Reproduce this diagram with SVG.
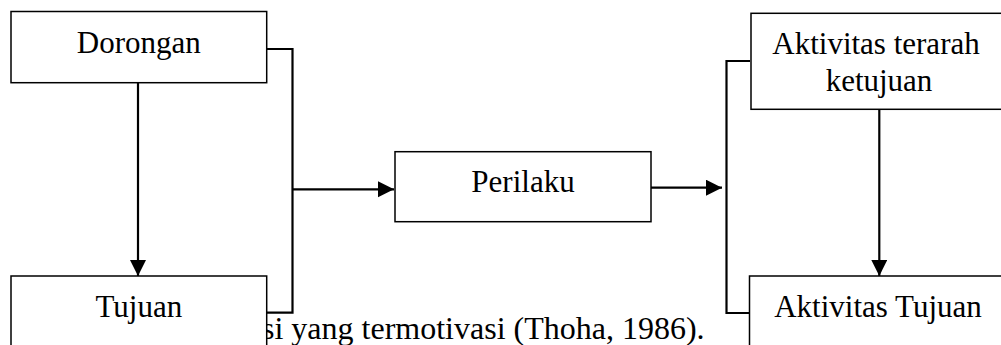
<svg xmlns="http://www.w3.org/2000/svg" width="1001" height="345" viewBox="0 0 1001 345">
<style>
.box{fill:#fff;stroke:#000;stroke-width:1.5}
.lbl{font-family:"Liberation Serif","Times New Roman",serif;font-size:31px;fill:#000;text-anchor:middle}
.cap{font-family:"Liberation Serif","Times New Roman",serif;font-size:32px;fill:#000}
.con{fill:none;stroke:#000;stroke-width:2.2}
</style>
<defs>
<marker id="arr" markerUnits="userSpaceOnUse" markerWidth="17" markerHeight="17" refX="16" refY="8" orient="auto">
<path d="M0,0 L16,8 L0,16 z" fill="#000"/>
</marker>
</defs>
<rect width="1001" height="345" fill="#fff"/>
<text class="cap" x="262" y="339">si yang termotivasi (Thoha, 1986).</text>
<g id="connectors">
<path class="con" d="M266.7,49 H292.5 V312.7 H266.7"/>
<path class="con" d="M138,83 V276" marker-end="url(#arr)"/>
<path class="con" d="M292.5,189.3 H394" marker-end="url(#arr)"/>
<path class="con" d="M651,187.7 H722" marker-end="url(#arr)"/>
<path class="con" d="M750,61 H726.5 V313 H749.5"/>
<path class="con" d="M879.3,109.3 V276" marker-end="url(#arr)"/>
</g>
<g id="dorongan">
<rect class="box" x="11" y="11.5" width="255.7" height="71.2"/>
<text class="lbl" x="138.8" y="53.3">Dorongan</text>
</g>
<g id="tujuan">
<rect class="box" x="11" y="276" width="255.7" height="100"/>
<text class="lbl" x="138.8" y="316.7">Tujuan</text>
</g>
<g id="perilaku">
<rect class="box" x="395" y="151.7" width="256" height="70"/>
<text class="lbl" x="523" y="192">Perilaku</text>
</g>
<g id="aktivitas-terarah">
<rect class="box" x="751" y="13.3" width="256" height="96"/>
<text class="lbl" x="876" y="54.3">Aktivitas terarah</text>
<text class="lbl" x="879" y="90.7">ketujuan</text>
</g>
<g id="aktivitas-tujuan">
<rect class="box" x="749.5" y="276" width="257" height="100"/>
<text class="lbl" x="878" y="316.7">Aktivitas Tujuan</text>
</g>
</svg>
